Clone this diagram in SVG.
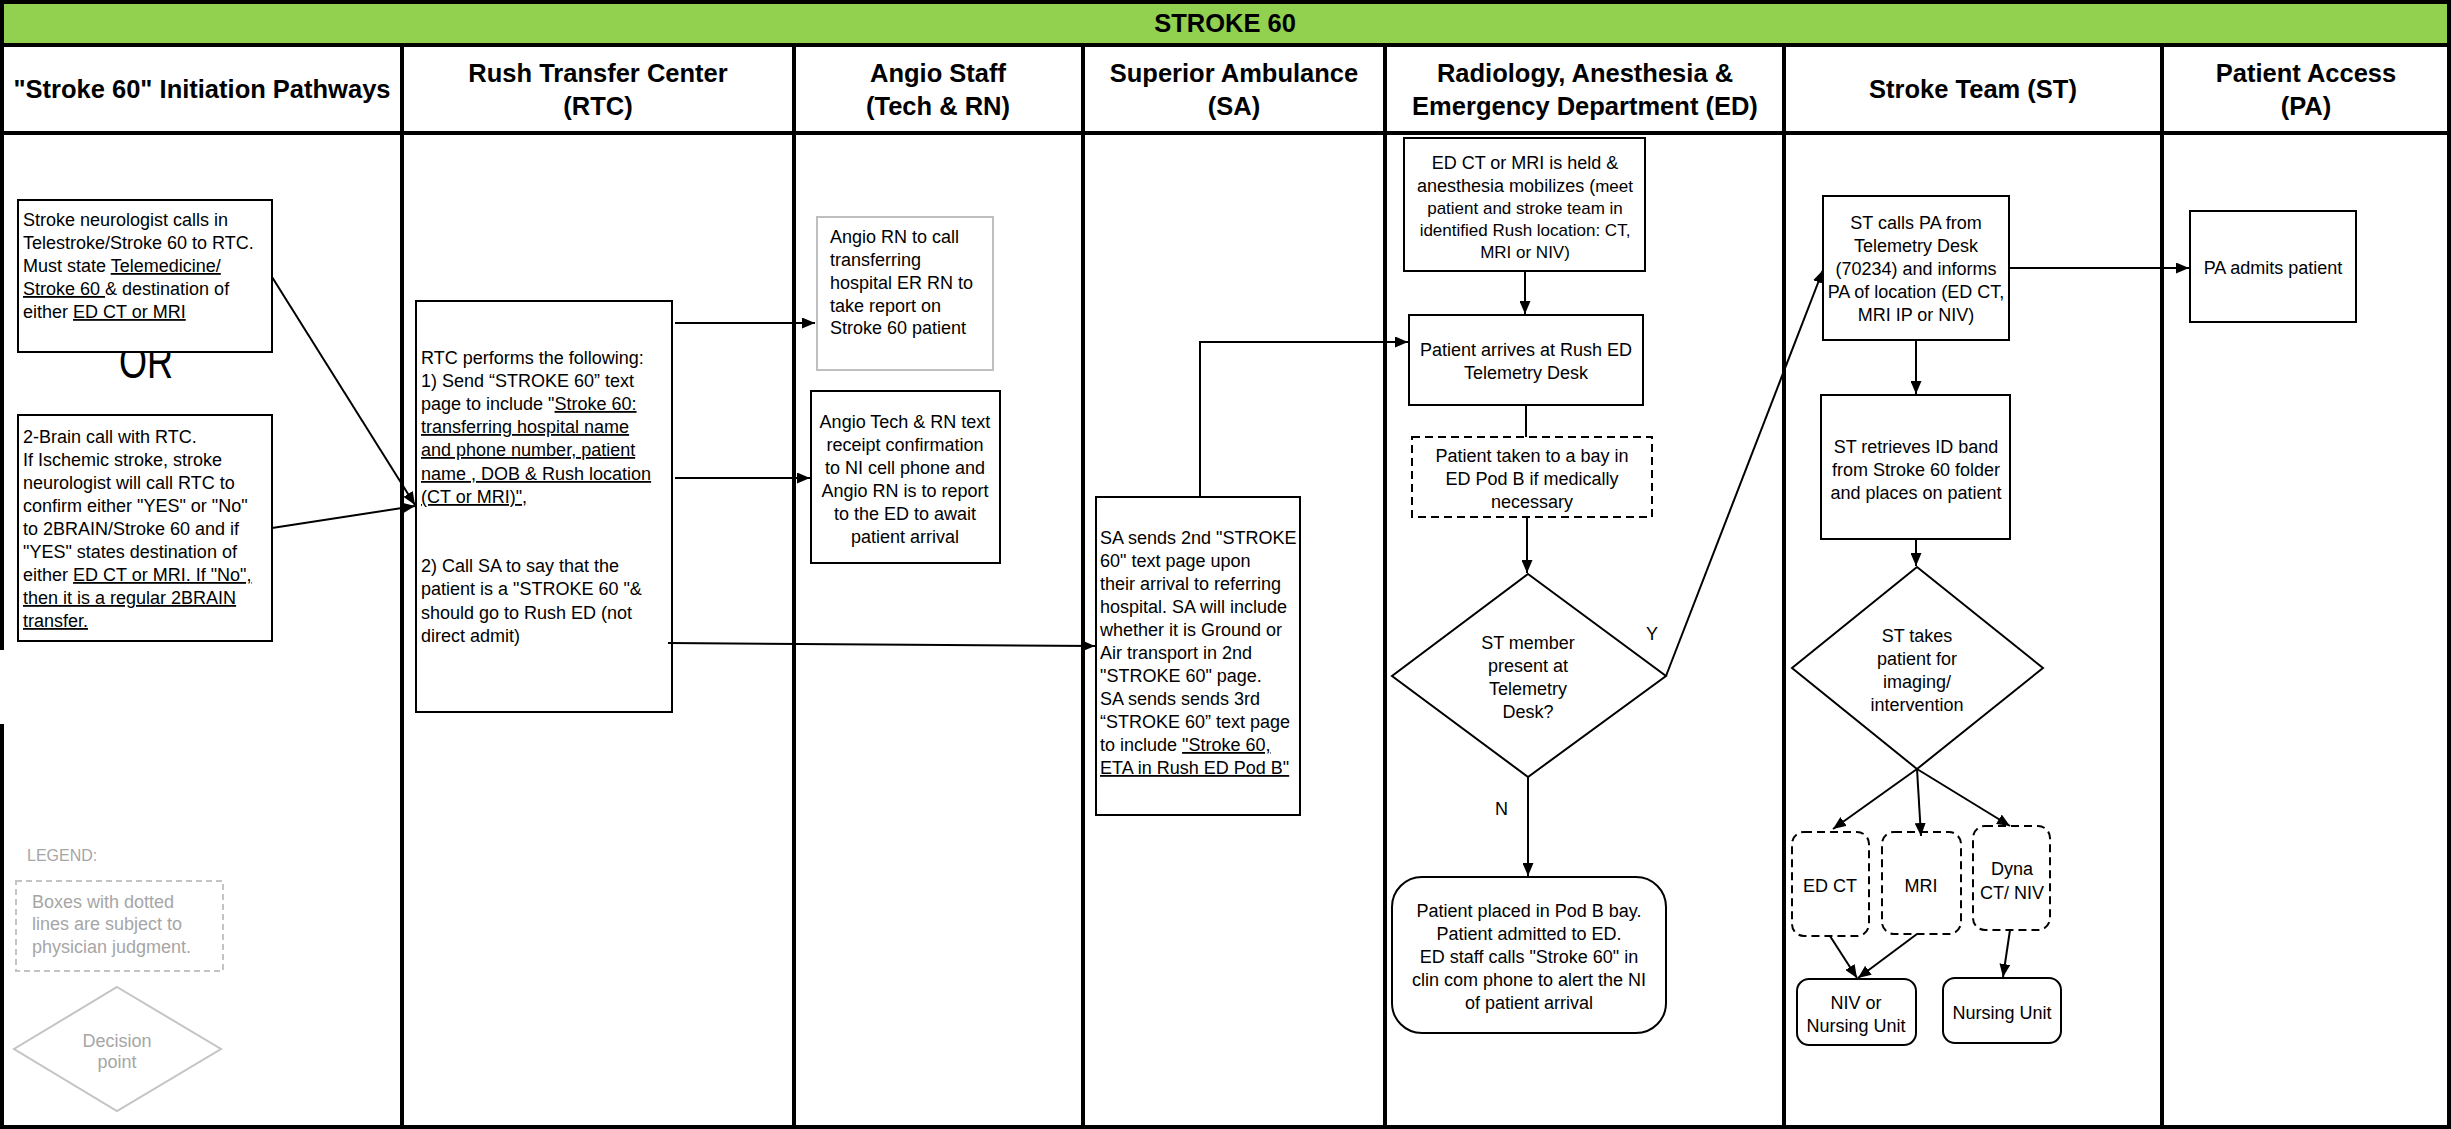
<svg xmlns="http://www.w3.org/2000/svg" width="2451" height="1129" viewBox="0 0 2451 1129">
<style>
.t{font-family:"Liberation Sans",Arial,sans-serif;font-size:18px;fill:#000}
.s{font-size:17px}
.c{text-anchor:middle}
.h{font-family:"Liberation Sans",Arial,sans-serif;font-weight:bold;font-size:25.5px;fill:#000;text-anchor:middle}
.box{fill:#fff;stroke:#000;stroke-width:2}
.dash{stroke-dasharray:8 5}
.conn{fill:none;stroke:#000;stroke-width:2}
.frame{fill:none;stroke:#000;stroke-width:4}
.lg{fill:#a6a6a6}
.lgs{fill:#fff;stroke:#c4c4c4;stroke-width:2}
.u{text-decoration:underline}
</style>
<defs>
<marker id="ah" viewBox="0 0 13 11" refX="13" refY="5.5" markerWidth="13" markerHeight="11" markerUnits="userSpaceOnUse" orient="auto"><path d="M0,0 L13,5.5 L0,11 z" fill="#000"/></marker>
</defs>
<rect x="0" y="0" width="2451" height="1129" fill="#fff"/>
<g id="frame">
<rect x="2" y="2" width="2447" height="43" fill="#92d050"/>
<rect x="2" y="2" width="2447" height="1125" class="frame"/>
<line x1="0" y1="45" x2="2451" y2="45" class="frame"/>
<line x1="0" y1="133" x2="2451" y2="133" class="frame"/>
<line x1="402" y1="45" x2="402" y2="1129" class="frame"/>
<line x1="794" y1="45" x2="794" y2="1129" class="frame"/>
<line x1="1083" y1="45" x2="1083" y2="1129" class="frame"/>
<line x1="1385" y1="45" x2="1385" y2="1129" class="frame"/>
<line x1="1784" y1="45" x2="1784" y2="1129" class="frame"/>
<line x1="2162" y1="45" x2="2162" y2="1129" class="frame"/>
<rect x="0" y="650" width="6" height="74" fill="#fff"/>
<text x="1225" y="32" class="h">STROKE 60</text>
<text x="202" y="98" class="h">"Stroke 60" Initiation Pathways</text>
<text x="598" y="82" class="h">Rush Transfer Center</text>
<text x="598" y="115" class="h">(RTC)</text>
<text x="938" y="82" class="h">Angio Staff</text>
<text x="938" y="115" class="h">(Tech &amp; RN)</text>
<text x="1234" y="82" class="h">Superior Ambulance</text>
<text x="1234" y="115" class="h">(SA)</text>
<text x="1585" y="82" class="h">Radiology, Anesthesia &amp;</text>
<text x="1585" y="115" class="h">Emergency Department (ED)</text>
<text x="1973" y="98" class="h">Stroke Team (ST)</text>
<text x="2306" y="82" class="h">Patient Access</text>
<text x="2306" y="115" class="h">(PA)</text>
</g>
<text x="119" y="378" class="t" style="font-size:48px" textLength="54" lengthAdjust="spacingAndGlyphs">OR</text>
<g id="n_tele">
<rect x="18" y="200" width="254" height="152" class="box"/>
<text class="t" x="23" y="226">Stroke neurologist calls in</text>
<text class="t" x="23" y="249">Telestroke/Stroke 60 to RTC.</text>
<text class="t" x="23" y="272">Must state <tspan class="u">Telemedicine/</tspan></text>
<text class="t" x="23" y="295"><tspan class="u">Stroke 60 </tspan>&amp; destination of</text>
<text class="t" x="23" y="318">either <tspan class="u">ED CT or MRI</tspan></text>
</g>
<g id="n_2brain">
<rect x="18" y="415" width="254" height="226" class="box"/>
<text class="t" x="23" y="443">2-Brain call with RTC.</text>
<text class="t" x="23" y="466">If Ischemic stroke, stroke</text>
<text class="t" x="23" y="489">neurologist will call RTC to</text>
<text class="t" x="23" y="512">confirm either "YES"  or "No"</text>
<text class="t" x="23" y="535">to 2BRAIN/Stroke 60 and if</text>
<text class="t" x="23" y="558">"YES" states destination of</text>
<text class="t" x="23" y="581">either <tspan class="u">ED CT or MRI. If "No",</tspan></text>
<text class="t" x="23" y="604"><tspan class="u">then it is a regular 2BRAIN</tspan></text>
<text class="t" x="23" y="627"><tspan class="u">transfer. </tspan></text>
</g>
<g id="n_rtc">
<rect x="416" y="301" width="256" height="411" class="box"/>
<text class="t" x="421" y="364">RTC  performs the following:</text>
<text class="t" x="421" y="387">1) Send “STROKE 60” text</text>
<text class="t" x="421" y="410">page  to include "<tspan class="u">Stroke 60:</tspan></text>
<text class="t" x="421" y="433"><tspan class="u">transferring hospital name</tspan></text>
<text class="t" x="421" y="456"><tspan class="u">and phone number, patient </tspan></text>
<text class="t" x="421" y="480"><tspan class="u">name , DOB &amp; Rush location</tspan></text>
<text class="t" x="421" y="503"><tspan class="u">(CT or MRI)",</tspan></text>
<text class="t" x="421" y="572">2) Call SA to say that the</text>
<text class="t" x="421" y="595">patient is a "STROKE 60 "&amp;</text>
<text class="t" x="421" y="619">should go to Rush ED (not</text>
<text class="t" x="421" y="642">direct admit)</text>
</g>
<g id="n_angiorn">
<rect x="817" y="217" width="176" height="153" fill="#fff" stroke="#bfbfbf" stroke-width="2"/>
<text class="t" x="830" y="243">Angio RN to call</text>
<text class="t" x="830" y="266">transferring</text>
<text class="t" x="830" y="289">hospital ER RN to</text>
<text class="t" x="830" y="312">take report on</text>
<text class="t" x="830" y="334">Stroke 60 patient</text>
</g>
<g id="n_angiotech">
<rect x="811" y="391" width="189" height="172" class="box"/>
<text class="t c" x="905" y="428">Angio Tech &amp; RN text</text>
<text class="t c" x="905" y="451">receipt confirmation</text>
<text class="t c" x="905" y="474">to NI cell phone and</text>
<text class="t c" x="905" y="497">Angio RN is to report</text>
<text class="t c" x="905" y="520">to the ED to await</text>
<text class="t c" x="905" y="543">patient arrival</text>
</g>
<g id="n_sa">
<rect x="1096" y="497" width="204" height="318" class="box"/>
<text class="t" x="1100" y="544">SA sends 2nd "STROKE</text>
<text class="t" x="1100" y="567">60" text page upon</text>
<text class="t" x="1100" y="590">their arrival to referring</text>
<text class="t" x="1100" y="613">hospital. SA will include</text>
<text class="t" x="1100" y="636">whether it is Ground or</text>
<text class="t" x="1100" y="659">Air transport in 2nd</text>
<text class="t" x="1100" y="682">"STROKE 60" page.</text>
<text class="t" x="1100" y="705">SA sends sends 3rd</text>
<text class="t" x="1100" y="728">“STROKE 60” text page</text>
<text class="t" x="1100" y="751">to include <tspan class="u">"Stroke 60,</tspan></text>
<text class="t" x="1100" y="774"><tspan class="u">ETA in Rush ED Pod B"</tspan></text>
</g>
<g id="n_edhold">
<rect x="1404" y="138" width="241" height="133" class="box"/>
<text class="t c" x="1525" y="169">ED CT or MRI is held &amp;</text>
<text class="t c" x="1525" y="192">anesthesia mobilizes (<tspan class="s">meet</tspan></text>
<text class="t s c" x="1525" y="214">patient and stroke team in</text>
<text class="t s c" x="1525" y="236">identified Rush location: CT,</text>
<text class="t s c" x="1525" y="258">MRI or NIV)</text>
</g>
<g id="n_arrive">
<rect x="1409" y="315" width="234" height="90" class="box"/>
<text class="t c" x="1526" y="356">Patient arrives at Rush ED</text>
<text class="t c" x="1526" y="379">Telemetry Desk</text>
</g>
<g id="n_bay">
<rect x="1412" y="437" width="240" height="80" class="box dash"/>
<text class="t c" x="1532" y="462">Patient taken to a bay in</text>
<text class="t c" x="1532" y="485">ED Pod B if medically</text>
<text class="t c" x="1532" y="508">necessary</text>
</g>
<g id="n_stmember">
<polygon points="1528,574 1666,676 1528,777 1392,676" class="box"/>
<text class="t c" x="1528" y="649">ST member</text>
<text class="t c" x="1528" y="672">present  at</text>
<text class="t c" x="1528" y="695">Telemetry</text>
<text class="t c" x="1528" y="718">Desk?</text>
</g>
<g id="n_podb">
<rect x="1392" y="877" width="274" height="156" rx="30" class="box"/>
<text class="t c" x="1529" y="917">Patient placed in Pod B bay.</text>
<text class="t c" x="1529" y="940">Patient admitted to ED.</text>
<text class="t c" x="1529" y="963">ED staff  calls "Stroke 60" in</text>
<text class="t c" x="1529" y="986">clin com phone to alert the NI</text>
<text class="t c" x="1529" y="1009">of patient arrival</text>
</g>
<g id="n_stcalls">
<rect x="1823" y="196" width="186" height="144" class="box"/>
<text class="t c" x="1916" y="229">ST calls PA from</text>
<text class="t c" x="1916" y="252">Telemetry Desk</text>
<text class="t c" x="1916" y="275">(70234) and informs</text>
<text class="t c" x="1916" y="298">PA of location (ED CT,</text>
<text class="t c" x="1916" y="321">MRI IP or NIV)</text>
</g>
<g id="n_pa">
<rect x="2190" y="211" width="166" height="111" class="box"/>
<text class="t c" x="2273" y="274">PA admits patient</text>
</g>
<g id="n_retrieve">
<rect x="1821" y="395" width="189" height="144" class="box"/>
<text class="t c" x="1916" y="453">ST retrieves ID band</text>
<text class="t c" x="1916" y="476">from Stroke 60 folder</text>
<text class="t c" x="1916" y="499">and places on patient</text>
</g>
<g id="n_takes">
<polygon points="1917,567 2043,668 1917,769 1792,668" class="box"/>
<text class="t c" x="1917" y="642">ST takes</text>
<text class="t c" x="1917" y="665">patient for</text>
<text class="t c" x="1917" y="688">imaging/</text>
<text class="t c" x="1917" y="711">intervention</text>
</g>
<g id="n_edct">
<rect x="1792" y="832" width="77" height="104" rx="12" class="box dash"/>
<text class="t c" x="1830" y="892">ED CT</text>
</g>
<g id="n_mri">
<rect x="1882" y="832" width="79" height="102" rx="12" class="box dash"/>
<text class="t c" x="1921" y="892">MRI</text>
</g>
<g id="n_dyna">
<rect x="1973" y="826" width="77" height="104" rx="12" class="box dash"/>
<text class="t c" x="2012" y="875">Dyna</text>
<text class="t c" x="2012" y="899">CT/ NIV</text>
</g>
<g id="n_niv">
<rect x="1797" y="979" width="119" height="66" rx="12" class="box"/>
<text class="t c" x="1856" y="1009">NIV or</text>
<text class="t c" x="1856" y="1032">Nursing Unit</text>
</g>
<g id="n_nursing">
<rect x="1943" y="978" width="118" height="65" rx="12" class="box"/>
<text class="t c" x="2002" y="1019">Nursing Unit</text>
</g>
<g id="legend">
<text class="t lg" x="27" y="861" style="font-size:16px">LEGEND:</text>
<rect x="16" y="881" width="207" height="90" class="lgs" stroke-dasharray="6 4"/>
<text class="t lg" x="32" y="908">Boxes with dotted</text>
<text class="t lg" x="32" y="930">lines are subject to</text>
<text class="t lg" x="32" y="953">physician judgment.</text>
<polygon points="117,987 221,1049 117,1111 14,1049" class="lgs"/>
<text class="t lg c" x="117" y="1047">Decision</text>
<text class="t lg c" x="117" y="1068">point</text>
</g>
<g id="connectors">
<line x1="272" y1="277" x2="415" y2="505" class="conn" marker-end="url(#ah)"/>
<line x1="272" y1="528" x2="415" y2="506" class="conn" marker-end="url(#ah)"/>
<line x1="675" y1="323" x2="815" y2="323" class="conn" marker-end="url(#ah)"/>
<line x1="675" y1="478" x2="810" y2="478" class="conn" marker-end="url(#ah)"/>
<line x1="668" y1="643" x2="1095" y2="646" class="conn" marker-end="url(#ah)"/>
<polyline points="1200,497 1200,342 1408,342" class="conn" marker-end="url(#ah)"/>
<line x1="1525" y1="271" x2="1525" y2="314" class="conn" marker-end="url(#ah)"/>
<line x1="1526" y1="405" x2="1526" y2="437" class="conn"/>
<line x1="1527" y1="517" x2="1527" y2="573" class="conn" marker-end="url(#ah)"/>
<line x1="1666" y1="676" x2="1823" y2="270" class="conn" marker-end="url(#ah)"/>
<line x1="1528" y1="777" x2="1528" y2="876" class="conn" marker-end="url(#ah)"/>
<line x1="2009" y1="268" x2="2189" y2="268" class="conn" marker-end="url(#ah)"/>
<line x1="1916" y1="340" x2="1916" y2="394" class="conn" marker-end="url(#ah)"/>
<line x1="1916" y1="539" x2="1916" y2="566" class="conn" marker-end="url(#ah)"/>
<line x1="1917" y1="769" x2="1833" y2="829" class="conn" marker-end="url(#ah)"/>
<line x1="1917" y1="769" x2="1921" y2="836" class="conn" marker-end="url(#ah)"/>
<line x1="1917" y1="769" x2="2010" y2="826" class="conn" marker-end="url(#ah)"/>
<line x1="1830" y1="936" x2="1857" y2="978" class="conn" marker-end="url(#ah)"/>
<line x1="1917" y1="934" x2="1858" y2="978" class="conn" marker-end="url(#ah)"/>
<line x1="2010" y1="930" x2="2003" y2="977" class="conn" marker-end="url(#ah)"/>
<text class="t" x="1646" y="640">Y</text>
<text class="t" x="1495" y="815">N</text>
</g>
</svg>
